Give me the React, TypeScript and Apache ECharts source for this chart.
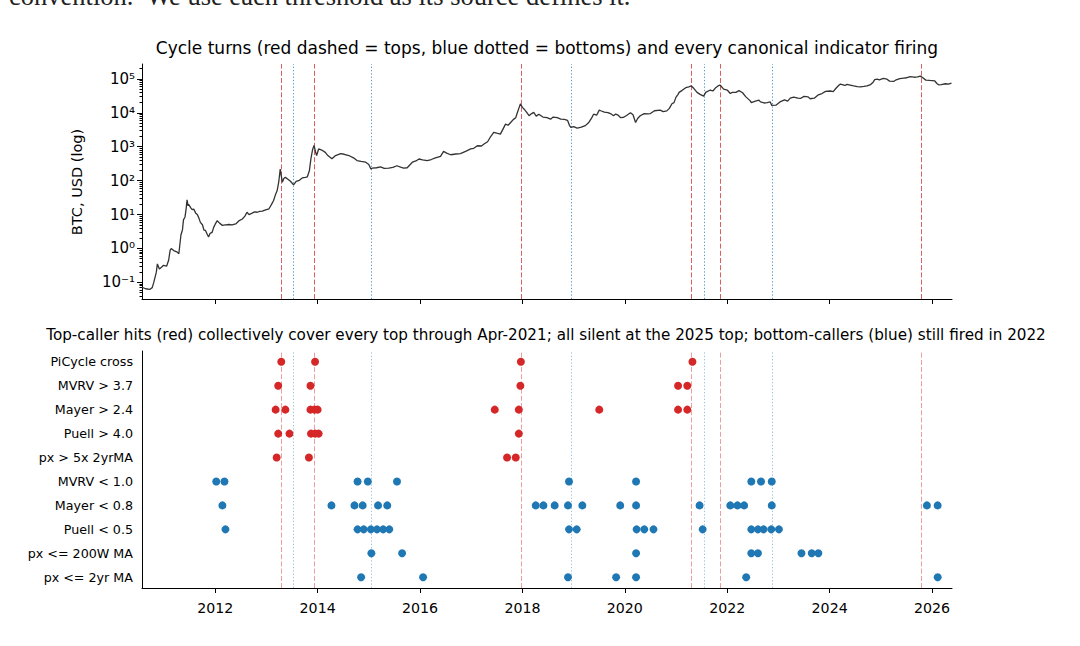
import React, { useEffect, useRef } from "react";
import * as echarts from "echarts";

// ---------- data ----------
const yearTicks = [2012, 2014, 2016, 2018, 2020, 2022, 2024, 2026];
const priceTicks = [0.1, 1, 10, 100, 1000, 10000, 100000];

// cycle turns (decimal years)
const cycleTops = [2013.29, 2013.94, 2017.97, 2021.3, 2021.87, 2025.78];
const cycleBottoms = [2013.53, 2015.05, 2018.96, 2021.56, 2022.87];

// BTC price (decimal year, USD)
const btcYears = [
  2010.57, 2010.64, 2010.72, 2010.77, 2010.8, 2010.85, 2010.87, 2010.91, 2010.95, 2010.99,
  2011.05, 2011.09, 2011.12, 2011.14, 2011.19, 2011.26, 2011.29, 2011.33, 2011.36, 2011.38,
  2011.41, 2011.43, 2011.45, 2011.47, 2011.48, 2011.52, 2011.55, 2011.58, 2011.62, 2011.65,
  2011.68, 2011.71, 2011.75, 2011.78, 2011.81, 2011.85, 2011.87, 2011.9, 2011.94, 2011.97,
  2012.0, 2012.04, 2012.09, 2012.14, 2012.2, 2012.27, 2012.33, 2012.4, 2012.46, 2012.53,
  2012.58, 2012.62, 2012.66, 2012.72, 2012.77, 2012.82, 2012.87, 2012.92, 2012.97, 2013.05,
  2013.1, 2013.14, 2013.18, 2013.21, 2013.24, 2013.27, 2013.29, 2013.31, 2013.34, 2013.37,
  2013.42, 2013.47, 2013.53, 2013.58, 2013.63, 2013.7, 2013.76, 2013.8, 2013.84, 2013.87,
  2013.9, 2013.93, 2013.96, 2013.98, 2014.02, 2014.08, 2014.15, 2014.2, 2014.28, 2014.35,
  2014.45, 2014.52, 2014.61, 2014.7, 2014.77, 2014.85, 2014.94, 2015.0, 2015.04, 2015.07,
  2015.15, 2015.23, 2015.3, 2015.39, 2015.47, 2015.55, 2015.62, 2015.68, 2015.75, 2015.85,
  2015.92, 2015.98, 2016.05, 2016.14, 2016.22, 2016.3, 2016.4, 2016.46, 2016.52, 2016.6,
  2016.7, 2016.79, 2016.9, 2016.99, 2017.05, 2017.12, 2017.2, 2017.25, 2017.32, 2017.38,
  2017.44, 2017.5, 2017.57, 2017.62, 2017.67, 2017.72, 2017.77, 2017.82, 2017.87, 2017.9,
  2017.94, 2017.96, 2018.0, 2018.03, 2018.08, 2018.13, 2018.18, 2018.22, 2018.27, 2018.32,
  2018.4, 2018.48, 2018.55, 2018.6, 2018.68, 2018.75, 2018.82, 2018.88, 2018.92, 2018.95,
  2019.0, 2019.07, 2019.15, 2019.23, 2019.3, 2019.35, 2019.39, 2019.45, 2019.5, 2019.53,
  2019.6, 2019.67, 2019.72, 2019.78, 2019.82, 2019.87, 2019.92, 2019.97, 2020.04, 2020.11,
  2020.16, 2020.21, 2020.25, 2020.3, 2020.38, 2020.45, 2020.5, 2020.58, 2020.69, 2020.75,
  2020.82, 2020.87, 2020.92, 2020.96, 2021.0, 2021.04, 2021.06, 2021.12, 2021.19, 2021.25,
  2021.3, 2021.35, 2021.41, 2021.47, 2021.54, 2021.58, 2021.67, 2021.72, 2021.78, 2021.82,
  2021.86, 2021.93, 2022.0, 2022.06, 2022.1, 2022.17, 2022.23, 2022.3, 2022.36, 2022.45,
  2022.47, 2022.55, 2022.62, 2022.65, 2022.72, 2022.78, 2022.84, 2022.87, 2022.95, 2023.03,
  2023.12, 2023.18, 2023.23, 2023.3, 2023.38, 2023.43, 2023.5, 2023.58, 2023.62, 2023.7,
  2023.78, 2023.85, 2023.92, 2024.01, 2024.07, 2024.12, 2024.18, 2024.21, 2024.3, 2024.34,
  2024.4, 2024.47, 2024.54, 2024.6, 2024.67, 2024.73, 2024.8, 2024.85, 2024.88, 2024.93,
  2024.97, 2025.05, 2025.12, 2025.17, 2025.25, 2025.3, 2025.37, 2025.45, 2025.5, 2025.57,
  2025.65, 2025.72, 2025.77, 2025.82, 2025.88, 2025.96, 2026.05, 2026.1, 2026.13, 2026.18,
  2026.26, 2026.32, 2026.38,
];
const btcPrices = [
  0.072, 0.065, 0.062, 0.07, 0.1, 0.2, 0.35, 0.25, 0.28, 0.32,
  0.3, 0.45, 0.9, 1.0, 0.87, 0.78, 0.7, 2.5, 3.5, 7.0,
  8.5, 14, 27, 18, 20, 16, 14, 14.5, 11, 10,
  8, 5.9, 5, 3.5, 3.4, 2.5, 2.2, 2.8, 3.0, 4.2,
  5.2, 6.6, 5.5, 4.8, 5.0, 5.1, 5.0, 5.3, 6.5, 7.4,
  9, 11.7, 10, 11, 12, 11.7, 12.5, 12.6, 13.5, 14.8,
  20, 26, 40, 51, 90, 220, 140, 90, 115, 125,
  110, 96, 75, 95, 100, 120, 125, 130, 200, 450,
  800, 1100, 700, 550, 860, 800, 680, 550, 440, 550,
  630, 600, 550, 470, 390, 370, 350, 300, 220, 235,
  240, 255, 230, 235, 245, 275, 250, 235, 240, 350,
  380, 435, 410, 390, 420, 470, 520, 730, 650, 580,
  610, 630, 740, 860, 900, 1070, 1050, 1200, 1400, 2000,
  2650, 2500, 2350, 3300, 4650, 4300, 5200, 6300, 7200, 10000,
  15000, 18300, 14500, 13000, 10500, 8200, 9500, 10300, 8000, 9100,
  7500, 7200, 6500, 7500, 7200, 6500, 6400, 6000, 4200, 3700,
  3900, 3550, 3800, 4200, 5300, 7000, 9100, 8500, 12000, 11500,
  10500, 10200, 9500, 8200, 9200, 8500, 7200, 7300, 8500, 10000,
  8800, 5200, 6800, 8200, 9500, 9300, 9500, 11500, 12000, 10800,
  11400, 13500, 18500, 20000, 29000, 35000, 40000, 46000, 55000, 58000,
  62000, 52000, 40000, 35000, 31000, 40000, 47000, 44000, 56000, 62000,
  66000, 50000, 47000, 37000, 40000, 40000, 45000, 39000, 30000, 22500,
  20000, 22000, 23500, 21000, 19500, 20000, 21000, 16500, 16800, 21000,
  24000, 22000, 27000, 29000, 27000, 26500, 30500, 29500, 26000, 27000,
  34000, 37000, 43000, 44000, 42000, 52000, 65000, 70000, 64000, 69000,
  66000, 62000, 59000, 58000, 60000, 62000, 68000, 80000, 95000, 98000,
  94000, 104000, 98000, 86000, 84000, 94000, 102000, 106000, 108000, 117000,
  112000, 114000, 121000, 108000, 92000, 90000, 88000, 72000, 67000, 68000,
  72000, 70000, 75000,
];

// indicator firings (decimal years)
const indicatorNames = [
  "PiCycle cross",
  "MVRV > 3.7",
  "Mayer > 2.4",
  "Puell > 4.0",
  "px > 5x 2yrMA",
  "MVRV < 1.0",
  "Mayer < 0.8",
  "Puell < 0.5",
  "px <= 200W MA",
  "px <= 2yr MA",
];
const piCycleCross = [2013.29, 2013.95, 2017.97, 2021.32];
const mvrvHigh = [2013.23, 2013.86, 2017.96, 2021.04, 2021.22];
const mayerHigh = [2013.18, 2013.37, 2013.86, 2013.94, 2014.0, 2017.46, 2017.93, 2019.5, 2021.04, 2021.22];
const puellHigh = [2013.23, 2013.45, 2013.87, 2013.95, 2014.02, 2017.93];
const px5x2yr = [2013.2, 2013.83, 2017.7, 2017.87];
const mvrvLow = [2012.02, 2012.18, 2014.78, 2014.98, 2015.55, 2018.91, 2020.22, 2022.47, 2022.66, 2022.87];
const mayerLow = [
  2012.14, 2014.27, 2014.72, 2014.88, 2015.18, 2015.36, 2018.26, 2018.41, 2018.63, 2018.89,
  2019.17, 2019.91, 2020.22, 2021.46, 2022.06, 2022.2, 2022.33, 2022.87, 2025.9, 2026.11,
];
const puellLow = [
  2012.2, 2014.78, 2014.9, 2015.04, 2015.16, 2015.28, 2015.4, 2018.91, 2019.06, 2020.23,
  2020.38, 2020.56, 2021.52, 2022.47, 2022.6, 2022.71, 2022.86, 2023.01,
];
const px200w = [2015.05, 2015.65, 2020.22, 2022.47, 2022.6, 2023.45, 2023.65, 2023.78];
const px2yr = [2014.85, 2016.06, 2018.89, 2019.83, 2020.22, 2022.37, 2026.11];

const topCallers = [piCycleCross, mvrvHigh, mayerHigh, puellHigh, px5x2yr];
const bottomCallers = [mvrvLow, mayerLow, puellLow, px200w, px2yr];

// ---------- styling ----------
const FONT = "DejaVu Sans";
const RED = "#d62728";
const BLUE = "#1f77b4";
const X_MIN = 2010.57;
const X_MAX = 2026.39;
const Y_MIN = 0.0324;
const Y_MAX = 275000;

const SUP: Record<string, string> = {
  "0": "\u2070", "1": "\u00b9", "2": "\u00b2", "3": "\u00b3", "4": "\u2074",
  "5": "\u2075", "6": "\u2076", "7": "\u2077", "8": "\u2078", "9": "\u2079", "-": "\u207b",
};

function minorLogTicks(lo: number, hi: number) {
  const out: number[] = [];
  for (let k = -3; k <= 6; k++) {
    for (let m = 2; m <= 9; m++) {
      const v = m * Math.pow(10, k);
      if (v >= lo && v <= hi) out.push(v);
    }
  }
  return out;
}

function turnLines(alpha: number) {
  return [
    ...cycleTops.map((x) => ({
      xAxis: x,
      lineStyle: { color: RED, type: [5, 2.2], width: 1, opacity: alpha },
    })),
    ...cycleBottoms.map((x) => ({
      xAxis: x,
      lineStyle: { color: BLUE, type: [1.3, 2], width: 1, opacity: alpha },
    })),
  ];
}

export default function App() {
  const ref = useRef<HTMLDivElement>(null);

  useEffect(() => {
    if (!ref.current) return;
    const chart = echarts.init(ref.current, undefined, { renderer: "svg" });
    const n = indicatorNames.length;
    const redData: number[][] = [];
    topCallers.forEach((arr, i) => arr.forEach((x) => redData.push([x, n - 1 - i])));
    const blueData: number[][] = [];
    bottomCallers.forEach((arr, i) =>
      arr.forEach((x) => blueData.push([x, n - 1 - (i + topCallers.length)]))
    );
    const priceData = btcYears.map((y, i) => [y, btcPrices[i]]);

    const xBase = {
      type: "value",
      min: X_MIN,
      max: X_MAX,
      splitLine: { show: false },
      axisLine: { show: true, onZero: false, lineStyle: { color: "#000", width: 1 } },
      axisTick: { show: true, customValues: yearTicks, length: 5, lineStyle: { color: "#000", width: 1 } },
    };

    const supLabel = (v: number) => {
      const e = String(Math.round(Math.log10(v)));
      return "10" + e.split("").map((c) => SUP[c] || c).join("");
    };

    const option: any = {
      animation: false,
      backgroundColor: "#fff",
      grid: [
        { left: 142, top: 64, width: 810, height: 235 },
        { left: 142, top: 351, width: 810, height: 237 },
      ],
      xAxis: [
        { ...xBase, gridIndex: 0, axisLabel: { show: false } },
        {
          ...xBase,
          gridIndex: 1,
          axisLabel: {
            show: true,
            customValues: yearTicks,
            formatter: (v: number) => String(Math.round(v)),
            color: "#000",
            fontSize: 14.2,
            fontFamily: FONT,
            margin: 13,
          },
        },
      ],
      yAxis: [
        {
          gridIndex: 0,
          type: "log",
          logBase: 10,
          min: Y_MIN,
          max: Y_MAX,
          splitLine: { show: false },
          axisLine: { show: true, lineStyle: { color: "#000", width: 1 } },
          axisTick: { show: true, customValues: priceTicks, length: 5, lineStyle: { color: "#000" } },
          axisLabel: {
            show: true,
            customValues: priceTicks,
            formatter: supLabel,
            margin: 7,
            color: "#000",
            fontSize: 15,
            fontFamily: FONT,
          },
        },
        {
          gridIndex: 0,
          type: "log",
          logBase: 10,
          min: Y_MIN,
          max: Y_MAX,
          position: "left",
          offset: 0,
          splitLine: { show: false },
          axisLine: { show: false },
          axisTick: { show: true, customValues: minorLogTicks(Y_MIN, Y_MAX), length: 2.5, lineStyle: { color: "#000" } },
          axisLabel: { show: false },
        },
        {
          gridIndex: 1,
          type: "value",
          min: -0.45,
          max: 9.45,
          splitLine: { show: false },
          axisLine: { show: true, onZero: false, lineStyle: { color: "#000", width: 1 } },
          axisTick: { show: false },
          axisLabel: {
            show: true,
            customValues: indicatorNames.map((_, i) => i),
            formatter: (v: number) => indicatorNames[n - 1 - Math.round(v)],
            color: "#000",
            fontSize: 12.7,
            fontFamily: FONT,
            margin: 9,
          },
        },
      ],
      series: [
        {
          type: "line",
          xAxisIndex: 0,
          yAxisIndex: 0,
          data: priceData,
          showSymbol: false,
          symbol: "none",
          lineStyle: { color: "#333", width: 1.3 },
          z: 3,
          markLine: {
            silent: true,
            symbol: ["none", "none"],
            label: { show: false },
            data: turnLines(0.75),
            z: 2,
          },
        },
        {
          type: "scatter",
          xAxisIndex: 1,
          yAxisIndex: 2,
          data: redData,
          symbolSize: 8,
          itemStyle: { color: RED, opacity: 1 },
          z: 3,
          markLine: {
            silent: true,
            symbol: ["none", "none"],
            label: { show: false },
            data: turnLines(0.45),
          },
        },
        {
          type: "scatter",
          xAxisIndex: 1,
          yAxisIndex: 2,
          data: blueData,
          symbolSize: 8,
          itemStyle: { color: BLUE, opacity: 1 },
          z: 3,
        },
      ],
      graphic: [
        {
          type: "text",
          x: 9,
          y: -4,
          style: {
            text: "convention.  We use each threshold as its source defines it.",
            font: "26.5px 'Liberation Serif'",
            fill: "#222",
            align: "left",
            verticalAlign: "middle",
          },
        },
        {
          type: "text",
          x: 547,
          y: 48,
          style: {
            text: "Cycle turns (red dashed = tops, blue dotted = bottoms) and every canonical indicator firing",
            font: `17px '${FONT}'`,
            fill: "#000",
            align: "center",
            verticalAlign: "middle",
          },
        },
        {
          type: "text",
          x: 546,
          y: 335,
          style: {
            text: "Top-caller hits (red) collectively cover every top through Apr-2021; all silent at the 2025 top; bottom-callers (blue) still fired in 2022",
            font: `15.2px '${FONT}'`,
            fill: "#000",
            align: "center",
            verticalAlign: "middle",
          },
        },
        {
          type: "text",
          x: 77,
          y: 182,
          rotation: Math.PI / 2,
          style: {
            text: "BTC, USD (log)",
            font: `14.5px '${FONT}'`,
            fill: "#000",
            align: "center",
            verticalAlign: "middle",
          },
        },
      ],
    };
    chart.setOption(option);
    return () => chart.dispose();
  }, []);

  return (
    <div
      ref={ref}
      style={{ position: "absolute", left: 0, top: 0, width: 1080, height: 646, background: "#fff" }}
    />
  );
}
